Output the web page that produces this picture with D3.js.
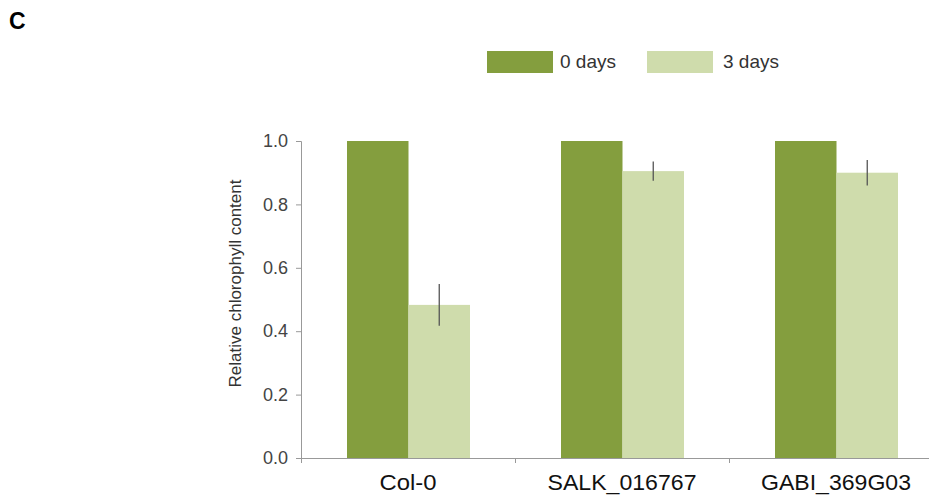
<!DOCTYPE html>
<html>
<head>
<meta charset="utf-8">
<script src="https://cdn.jsdelivr.net/npm/d3@7"></script>
<style>
  body { margin: 0; background: #fff; }
  svg { display: block; font-family: "Liberation Sans", Arial, sans-serif; }
</style>
</head>
<body>
<svg id="chart" width="929" height="497"></svg>
<script>
const lines = ["Col-0", "SALK_016767", "GABI_369G03"];
const seriesNames = ["0 days", "3 days"];
const day0 = [1.0, 1.0, 1.0];
const day3 = [0.483, 0.905, 0.9];
const day3Err = [0.066, 0.03, 0.04];
const yTicks = [0, 0.2, 0.4, 0.6, 0.8, 1.0];

const colors = ["#849e3e", "#cfdcac"];

const svg = d3.select("#chart");
const margin = {left: 301, top: 141, bottom: 39};
const plotW = 642;
const plotH = 497 - margin.top - margin.bottom;

const g = svg.append("g").attr("transform", `translate(${margin.left},${margin.top})`);

const x = d3.scaleBand().domain(lines).range([0, plotW]).paddingInner(0).paddingOuter(0);
const inner = d3.scaleBand().domain(seriesNames).range([46, 46 + 123]);
const y = d3.scaleLinear().domain([0, 1]).range([plotH, 0]);

// bars
const rows = lines.map((l, i) => ({line: l, vals: [day0[i], day3[i]], err: [0, day3Err[i]]}));
const groups = g.selectAll(".grp").data(rows).enter().append("g")
  .attr("transform", d => `translate(${x(d.line)},0)`);

groups.selectAll("rect")
  .data(d => d.vals.map((v, k) => ({k, v})))
  .enter().append("rect")
  .attr("x", d => inner(seriesNames[d.k]))
  .attr("width", inner.bandwidth())
  .attr("y", d => y(d.v))
  .attr("height", d => plotH - y(d.v))
  .attr("fill", d => colors[d.k]);

// error bars on 3 days
groups.append("line")
  .attr("x1", inner(seriesNames[1]) + inner.bandwidth() / 2)
  .attr("x2", inner(seriesNames[1]) + inner.bandwidth() / 2)
  .attr("y1", d => y(d.vals[1] + d.err[1]))
  .attr("y2", d => y(d.vals[1] - d.err[1]))
  .attr("stroke", "#555")
  .attr("stroke-width", 1.3);

// y axis
const yAxis = g.append("g")
  .call(d3.axisLeft(y).tickValues(yTicks).tickFormat(d3.format(".1f")).tickSize(5).tickPadding(8));
yAxis.select(".domain").attr("stroke", "#999").attr("d", `M-5,0.5H0.5V${plotH}`);
yAxis.selectAll(".tick line").attr("stroke", "#999");
yAxis.selectAll(".tick text").attr("fill", "#444").style("font-size", "18px");

// x axis
const xAxis = g.append("g")
  .attr("transform", `translate(0,${plotH})`)
  .call(d3.axisBottom(x).tickSize(0).tickPadding(16));
xAxis.select(".domain").attr("stroke", "#999").attr("d", `M0,0.5H${plotW}`);
xAxis.selectAll(".tick text").attr("fill", "#111").style("font-size", "22px")
  .attr("textLength", (d, i) => [57, 149, 150][i]).attr("lengthAdjust", "spacingAndGlyphs");
xAxis.selectAll(".sep").data(lines).enter().append("line")
  .attr("x1", d => x(d) + 0.5).attr("x2", d => x(d) + 0.5)
  .attr("y1", 0).attr("y2", 5)
  .attr("stroke", "#999");

// y label
svg.append("text")
  .attr("transform", `translate(241,${margin.top + plotH / 2 - 16}) rotate(-90)`)
  .attr("text-anchor", "middle")
  .attr("fill", "#333")
  .style("font-size", "17px")
  .text("Relative chlorophyll content");

// legend
const legend = svg.append("g").attr("transform", "translate(487,51)");
const legendX = [0, 160];
seriesNames.forEach((s, k) => {
  legend.append("rect").attr("x", legendX[k]).attr("y", 0)
    .attr("width", 66).attr("height", 22).attr("fill", colors[k]);
  legend.append("text").attr("x", legendX[k] + 73 + (k ? 3 : 0)).attr("y", 17)
    .attr("fill", "#333").style("font-size", "19px").text(s);
});

// panel letter
svg.append("text").attr("x", 9).attr("y", 29)
  .style("font-size", "23px").style("font-weight", "bold").attr("fill", "#000")
  .text("C");
</script>
</body>
</html>
